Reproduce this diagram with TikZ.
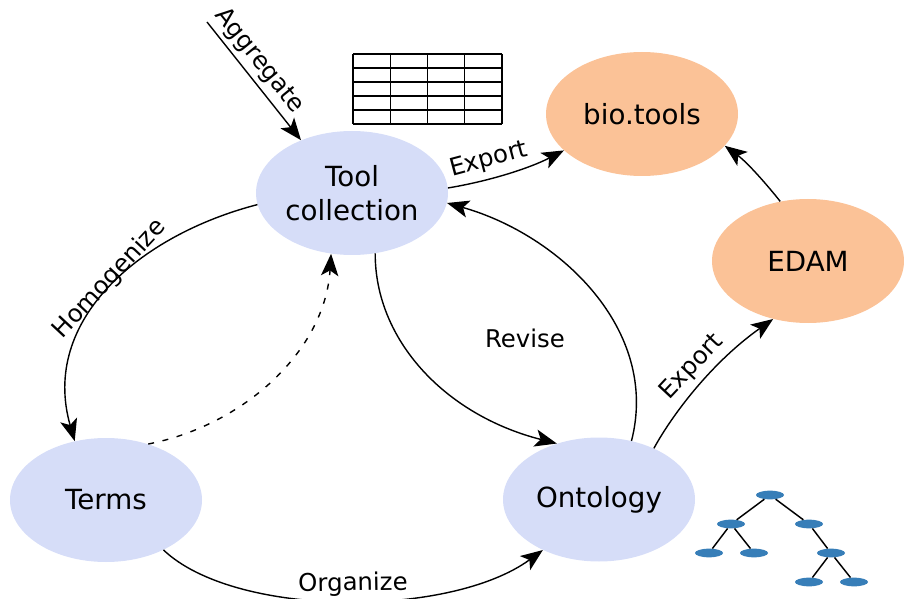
\documentclass[tikz,border=0pt]{standalone}
\usepackage{fontspec}
\setmainfont{DejaVu Sans}
\usetikzlibrary{arrows.meta,shapes.geometric}
\definecolor{blueN}{HTML}{D6DDF8}
\definecolor{orangeN}{HTML}{FBC297}
\definecolor{treeN}{HTML}{377EB8}
\tikzset{
  x=0.75pt,y=-0.75pt,
  bigell/.style={ellipse,draw=none,minimum width=144pt,minimum height=93pt,inner sep=0pt,align=center,font=\fontsize{20.8}{25.5}\selectfont},
  toolish/.style={bigell,fill=blueN},
  outish/.style={bigell,fill=orangeN},
  conn/.style={line width=1.05pt,-{Stealth[length=16.5pt,width=13pt,inset=4pt]}},
  lab/.style={font=\fontsize{18.3}{22}\selectfont,inner sep=0pt},
  leaf/.style={ellipse,fill=treeN,draw=none,minimum width=21pt,minimum height=6.5pt,inner sep=0pt},
  tedge/.style={line width=1.1pt},
  grid line/.style={line width=1pt},
}
\begin{document}
\begin{tikzpicture}
\useasboundingbox (0,0) rectangle (904,599);
\node[toolish] (tool) at (352,193) {Tool\\collection};
\node[outish] (bio) at (642,114) {bio.tools};
\node[outish] (edam) at (808,261) {EDAM};
\node[toolish] (terms) at (106,500) {Terms};
\node[toolish] (onto) at (599,499.5) {Ontology};
\coordinate (agg) at (207,22);
% connectors
\draw[conn] (agg) -- (tool.134);
\draw[conn] (tool.3) .. controls (490,181) and (530,168) .. (bio.205);
\draw[conn] (edam.115) .. controls (768,186) and (748,163) .. (bio.-21);
\draw[conn] (onto.43) .. controls (675,410) and (715,360) .. (edam.239);
\draw[conn] (onto.61.5) .. controls (660,330) and (560,235) .. (tool.-6.6);
\draw[conn] (tool.-69) .. controls (375,340) and (445,415) .. (onto.127);
\draw[conn] (tool.187) .. controls (140,235) and (40,320) .. (terms.118.5);
\draw[conn,dash pattern=on 4.5pt off 6.5pt] (terms.53) .. controls (245,425) and (325,350) .. (tool.251);
\draw[conn] (terms.-41) .. controls (235,618) and (450,618) .. (onto.222);
% labels
\node[lab,rotate=-51] (l1) at (259,61) {Aggregate};
\node[lab,rotate=15] (l2) at (489,160) {Export};
\node[lab,rotate=47] (l3) at (110,279) {Homogenize};
\node[lab,rotate=47] (l4) at (692,367) {Export};
\node[lab] (l5) at (525,338) {Revise};
\node[lab,rotate=1] (l6) at (353,584) {Organize};
% table
\foreach \c in {353,390.25,427.5,464.75,502} \draw[grid line] (\c,54) -- (\c,124);
\foreach \r in {54,68,82,96,110,124} \draw[grid line] (353,\r) -- (502,\r);
% tree
\node[leaf] (r) at (770,495) {};
\node[leaf] (a) at (731,524) {};
\node[leaf] (b) at (809,524) {};
\node[leaf] (c) at (709,553) {};
\node[leaf] (d) at (754,553) {};
\node[leaf] (e) at (831,553) {};
\node[leaf] (f) at (809,582) {};
\node[leaf] (g) at (854,582) {};
\foreach \u/\v in {r/a,r/b,a/c,a/d,b/e,e/f,e/g} \draw[tedge] (\u) -- (\v);
\end{tikzpicture}
\end{document}
